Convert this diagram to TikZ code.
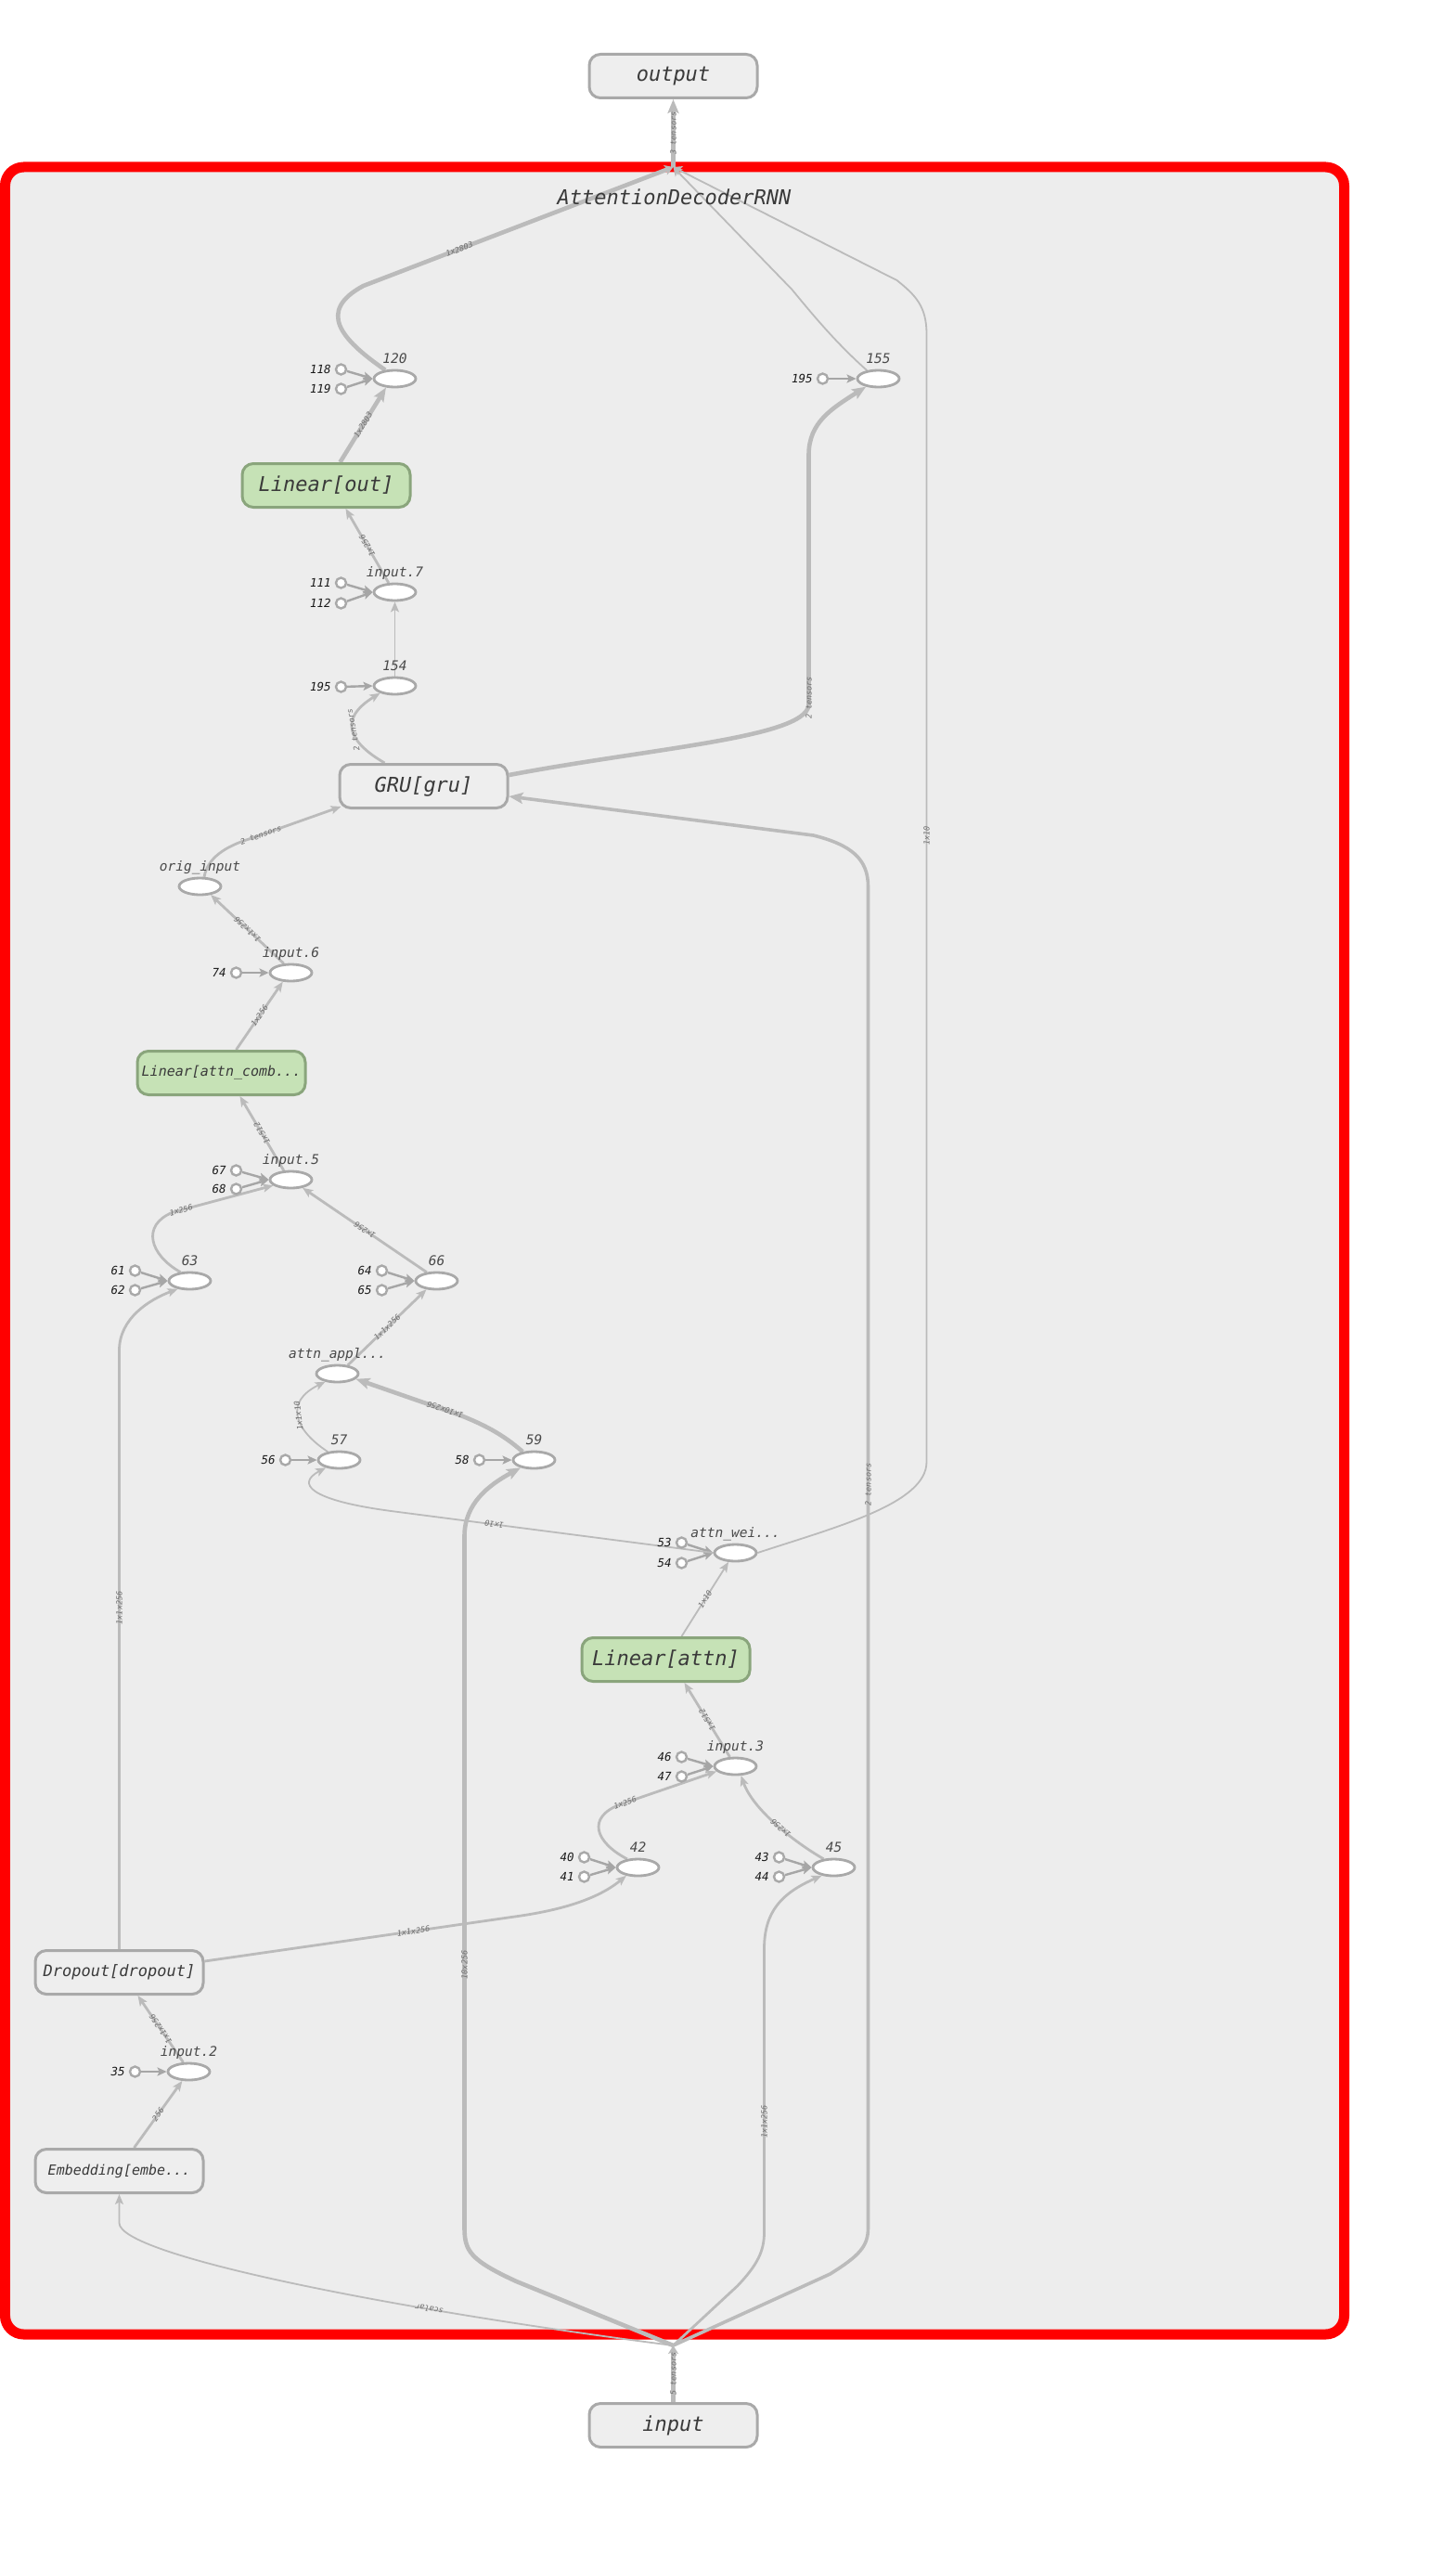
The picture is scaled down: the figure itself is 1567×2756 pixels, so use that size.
\documentclass[tikz,border=0pt]{standalone}
\usepackage{fontspec}
\setmonofont{DejaVu Sans Mono}
\usetikzlibrary{shapes.geometric,arrows.meta,calc}
\definecolor{ecol}{HTML}{BBBBBB}
\definecolor{ncol}{HTML}{A9A9A9}
\definecolor{boxfill}{HTML}{EEEEEE}
\definecolor{framefill}{HTML}{EDEDED}
\definecolor{gfill}{HTML}{C6E2B6}
\definecolor{gdraw}{HTML}{8AA57C}
\definecolor{labcol}{HTML}{707070}
\definecolor{txtcol}{HTML}{3A3A3A}
\definecolor{oplcol}{HTML}{4A4A4A}
\definecolor{cstcol}{HTML}{1A1A1A}
\definecolor{carrowcol}{HTML}{A6A6A6}
\pgfdeclarelayer{bg}
\pgfdeclarelayer{edges}
\pgfsetlayers{bg,edges,main}
\newcommand{\myfnt}[1]{\ttfamily\itshape\fontsize{#1}{#1}\selectfont}
\newcommand{\mkop}[4]{\node[opell] (#1) at (#2,#3) {}; \node[opl] at ([yshift=17pt]#1.center) {#4};}
\newcommand{\mkcst}[4]{\node[cst] (#1) at (#2,#3) {}; \node[cstl] at ([xshift=-4pt]#1.west) {#4};}
\tikzset{
 opbox/.style={rectangle, rounded corners=12pt, draw=ncol, line width=3pt, fill=boxfill, minimum width=181pt, minimum height=47pt, inner sep=0pt, text=txtcol, font=\myfnt{22}},
 greenbox/.style={opbox, fill=gfill, draw=gdraw},
 opell/.style={ellipse, draw=ncol, line width=2.8pt, fill=white, minimum width=45pt, minimum height=18pt, inner sep=0pt},
 opl/.style={anchor=base, inner sep=0pt, text=oplcol, font=\myfnt{14.5}},
 cst/.style={circle, draw=ncol, line width=2.4pt, fill=white, minimum size=11pt, inner sep=0pt},
 cstl/.style={anchor=east, inner sep=0pt, text=cstcol, font=\myfnt{12.5}},
 carrow/.style={draw=carrowcol, line width=2.4pt, -{Stealth[length=10pt,width=9pt,inset=2pt]}},
 edg/.style={draw=ecol, line width=2.8pt, -{Stealth[length=11pt,width=9pt,inset=2.5pt]}},
 edgthin/.style={edg, line width=1.8pt},
 edgthick/.style={draw=ecol, line width=4.6pt, -{Stealth[length=15pt,width=12pt,inset=3pt]}},
 edgmid/.style={edgthick, line width=3.6pt},
 hubtip/.style={-{Stealth[length=9pt,width=11pt,inset=2pt]}},
 elab/.style={sloped, allow upside down, inner sep=0.5pt, text=labcol, font=\myfnt{8.5}},
}
\begin{document}
\begin{tikzpicture}[x=1pt,y=-1pt]
\begin{pgfonlayer}{bg}
\fill[white] (0,0) rectangle (1567,2756);
\draw[red, line width=11pt, fill=framefill, rounded corners=20pt] (4,180) rectangle (1447,2515);
\end{pgfonlayer}
\useasboundingbox (0,0) rectangle (1567,2756);

% nodes
\node[font=\myfnt{22}, text=txtcol] (title) at (725,212) {AttentionDecoderRNN};
\node[opbox] (output) at (724,82) {output};
\node[opbox] (input) at (724,2613) {input};
\coordinate (hubT) at (724,180);
\coordinate (hubB) at (724,2527);

\mkop{n120}{424}{408}{120}
\mkcst{c118}{366}{398}{118}
\mkcst{c119}{366}{419}{119}
\mkop{n155}{945}{408}{155}
\mkcst{c195a}{885}{408}{195}
\node[greenbox] (linout) at (350,523) {Linear[out]};
\mkop{in7}{424}{638}{input.7}
\mkcst{c111}{366}{628}{111}
\mkcst{c112}{366}{650}{112}
\mkop{n154}{424}{739}{154}
\mkcst{c195b}{366}{740}{195}
\node[opbox] (gru) at (455,847) {GRU[gru]};
\mkop{origin}{214}{955}{orig\_input}
\mkop{in6}{312}{1048}{input.6}
\mkcst{c74}{253}{1048}{74}
\node[greenbox, font=\myfnt{15}] (lincomb) at (237,1156) {Linear[attn\_comb...};
\mkop{in5}{312}{1271}{input.5}
\mkcst{c67}{253}{1261}{67}
\mkcst{c68}{253}{1281}{68}
\mkop{n63}{203}{1380}{63}
\mkcst{c61}{144}{1369}{61}
\mkcst{c62}{144}{1390}{62}
\mkop{n66}{469}{1380}{66}
\mkcst{c64}{410}{1369}{64}
\mkcst{c65}{410}{1390}{65}
\mkop{appl}{362}{1480}{attn\_appl...}
\mkop{n57}{364}{1573}{57}
\mkcst{c56}{306}{1573}{56}
\mkop{n59}{574}{1573}{59}
\mkcst{c58}{515}{1573}{58}
\mkop{wei}{791}{1673}{attn\_wei...}
\mkcst{c53}{733}{1662}{53}
\mkcst{c54}{733}{1684}{54}
\node[greenbox] (linattn) at (716,1788) {Linear[attn]};
\mkop{in3}{791}{1903}{input.3}
\mkcst{c46}{733}{1893}{46}
\mkcst{c47}{733}{1914}{47}
\mkop{n42}{686}{2012}{42}
\mkcst{c40}{628}{2001}{40}
\mkcst{c41}{628}{2022}{41}
\mkop{n45}{897}{2012}{45}
\mkcst{c43}{838}{2001}{43}
\mkcst{c44}{838}{2022}{44}
\node[opbox, font=\myfnt{17}] (dropout) at (127,2125) {Dropout[dropout]};
\mkop{in2}{202}{2232}{input.2}
\mkcst{c35}{144}{2232}{35}
\node[opbox, font=\myfnt{15}] (embed) at (127,2339) {Embedding[embe...};

\begin{pgfonlayer}{edges}
\foreach \ca/\nb in {c118/n120, c119/n120, c195a/n155, c111/in7, c112/in7, c195b/n154, c74/in6, c67/in5, c68/in5, c61/n63, c62/n63, c64/n66, c65/n66, c56/n57, c58/n59, c53/wei, c54/wei, c46/in3, c47/in3, c40/n42, c41/n42, c43/n45, c44/n45, c35/in2}
  \draw[carrow] (\ca) -- (\nb.west);

% top part
\draw[edgthick] (hubT) -- node[elab]{3 tensors} (output.south);
\draw[edgthick,hubtip] (n120.138) .. controls (365,365) and (340,335) .. (390,308) -- node[elab,pos=0.31]{1x2803} (hubT);
\draw[edgthin,hubtip] (n155.144) .. controls (900,370) and (875,340) .. (852,312) -- (hubT);
\draw[edgthin,hubtip] (wei.east) .. controls (900,1645) and (997,1620) .. (997,1575) -- node[elab,pos=0.555]{1x10} (997,360) .. controls (997,330) and (985,318) .. (965,302) -- (hubT);
\draw[edgthick] ([xshift=15pt]linout.north) -- node[elab]{1x2803} (n120.225);
\draw[edg] (in7.124) -- node[elab]{1x256} ([xshift=21pt]linout.south);
\draw[edgthin] (n154) -- (in7);
\draw[edg] ([xshift=-42pt]gru.north) .. controls (375,800) and (362,775) .. node[elab]{2 tensors} (n154.206);
\draw[edgthick] ([yshift=12pt]gru.east) .. controls (700,806) and (865,795) .. (870,760) -- node[elab,pos=0.03]{2 tensors} (870,490) .. controls (870,455) and (895,440) .. (n155.213);
\draw[edg] (origin.66) .. controls (222,925) and (240,912) .. (270,903) -- node[elab,pos=0.1]{2 tensors} ([xshift=3pt,yshift=3pt]gru.south west);
\draw[edg] (in6.128) -- node[elab]{1x1x256} (origin.322);
\draw[edg] ([xshift=16pt]lincomb.north) -- node[elab]{1x256} (in6.228);
\draw[edg] (in5.128) -- node[elab]{1x512} ([xshift=20pt]lincomb.south);
\draw[edg] (n63.137) .. controls (160,1352) and (150,1320) .. (185,1306) -- node[elab,pos=0.08]{1x256} (in5.198);
\draw[edg] (n66.139) -- node[elab]{1x256} (in5.325);
\draw[edg] (appl.39) -- node[elab]{1x1x256} (n66.220);
\draw[edgthin] (n57.144) .. controls (315,1540) and (305,1510) .. node[elab]{1x1x10} (appl.214);
\draw[edgthick] (n59.144) .. controls (540,1545) and (520,1535) .. (495,1525) -- node[elab,pos=0.15]{1x10x256} (appl.344);
\draw[edgthin] (wei.west) -- node[elab,pos=0.68]{1x10} (420,1628) .. controls (330,1616) and (318,1598) .. (n57.210);
\draw[edgthin] ([xshift=17pt]linattn.north) -- node[elab]{1x10} (wei.233);
\draw[edg] (in3.121) -- node[elab]{1x512} ([xshift=20pt]linattn.south);
\draw[edg] (n42.142) .. controls (640,1985) and (630,1958) .. (667,1944) -- node[elab,pos=0.05]{1x256} (in3.195);
\draw[edg] (n45.140) .. controls (855,1985) and (810,1950) .. node[elab,pos=0.45]{1x256} (in3.301);
\draw[edg] ([yshift=12pt]dropout.east) -- node[elab,pos=0.66]{1x1x256} (560,2064) .. controls (620,2055) and (650,2040) .. (n42.215);
\draw[edg] (dropout.north) -- node[elab,pos=0.57]{1x1x256} (127,1455) .. controls (127,1420) and (160,1400) .. (n63.214);
\draw[edg] (in2.121) -- node[elab]{1x1x256} ([xshift=20pt]dropout.south);
\draw[edg] ([xshift=16pt]embed.north) -- node[elab]{256} (in2);

% bottom part
\draw[edgthick,hubtip] (input.north) -- node[elab]{5 tensors} (hubB);
\draw[edgthick] (hubB) -- (555,2458) .. controls (505,2435) and (499,2425) .. (499,2400) -- node[elab,pos=0.38]{10x256} (499,1655) .. controls (499,1620) and (525,1600) .. (n59.210);
\draw[edg] (hubB) -- (793,2463) .. controls (815,2440) and (822,2425) .. (822,2405) -- node[elab,pos=0.39]{1x1x256} (822,2100) .. controls (822,2060) and (840,2040) .. (n45.214);
\draw[edgmid] (hubB) -- (893,2450) .. controls (925,2430) and (934,2420) .. (934,2400) -- node[elab,pos=0.554]{2 tensors} (934,955) .. controls (934,925) and (915,910) .. (875,900) -- ([yshift=-11pt]gru.east);
\draw[edgthin] (hubB) .. controls (420,2488) and (127,2430) .. node[elab,pos=0.3]{scalar} (127,2395) -- (embed.south);
\end{pgfonlayer}
\end{tikzpicture}
\end{document}
